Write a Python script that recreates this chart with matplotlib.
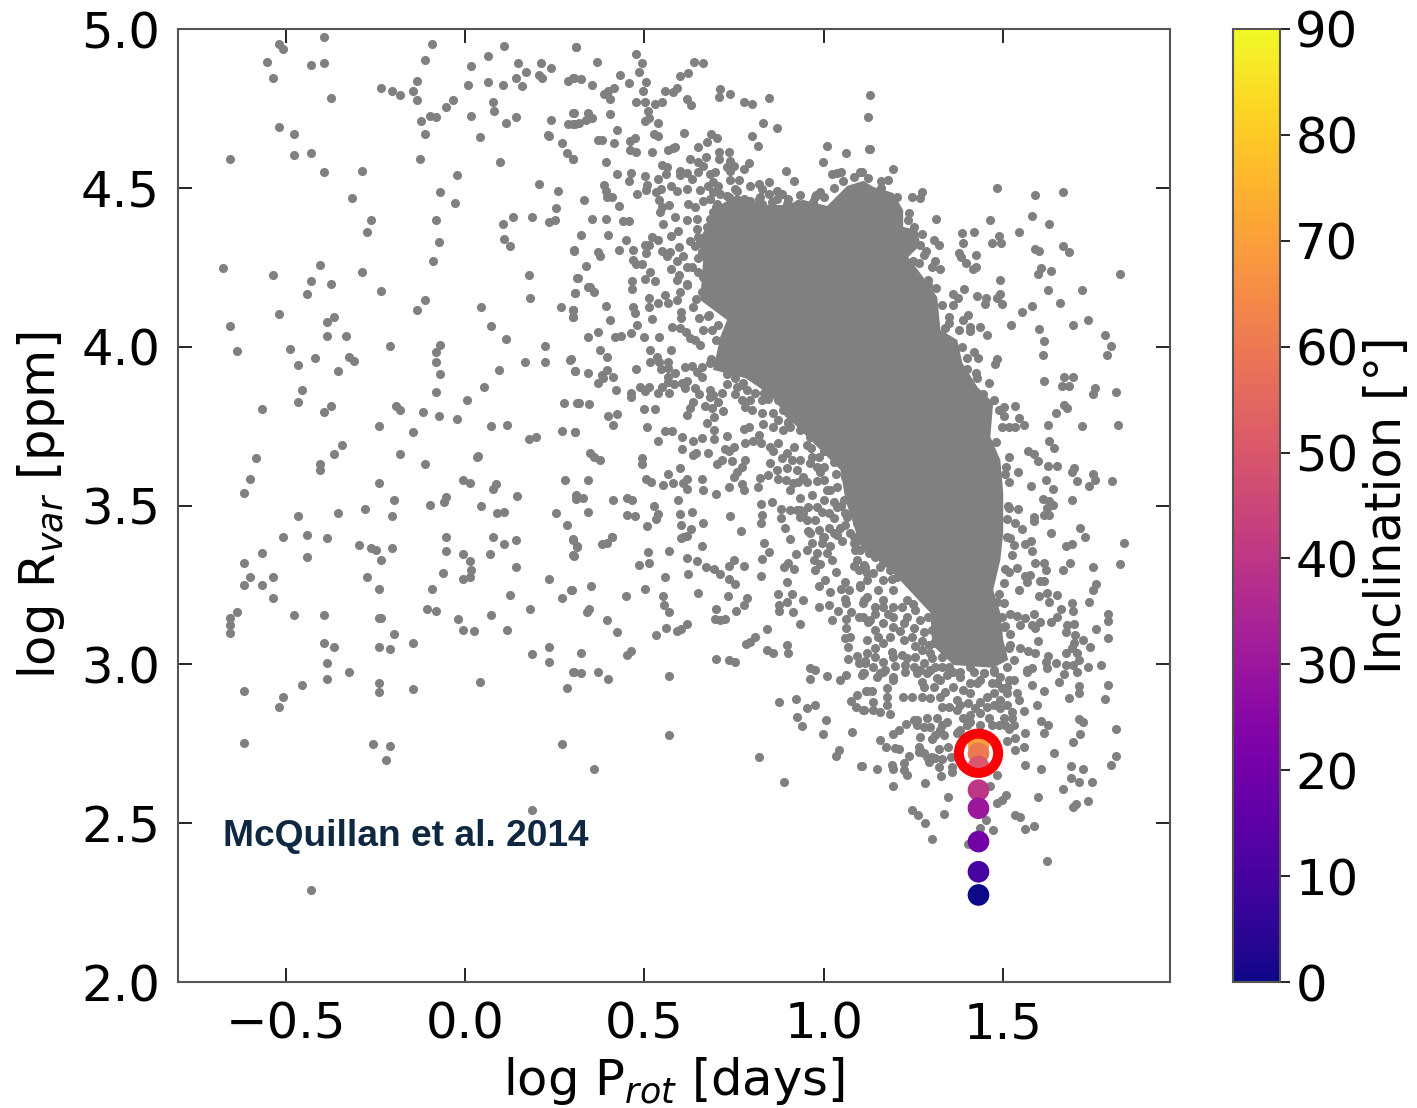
import matplotlib
matplotlib.use("Agg")
import matplotlib.pyplot as plt
import numpy as np

# log Prot, log Rvar, region by region
left_top = [(-0.518,4.953),(-0.506,4.937),(-0.393,4.975),(-0.551,4.897),(-0.429,4.888),(-0.393,4.892),(-0.534,4.846),(-0.372,4.783),
    (-0.093,4.952),(-0.110,4.901),(-0.134,4.837),(-0.234,4.814),(-0.203,4.805),(-0.181,4.791),(-0.146,4.805),(-0.134,4.778),(-0.033,4.778),
    (-0.053,4.754),(-0.098,4.725),(-0.081,4.723),(-0.122,4.709),(-0.110,4.668),(0.017,4.727),(0.017,4.884),(0.008,4.824),(0.065,4.915),
    (0.110,4.948),(0.065,4.833),(0.106,4.824),(0.077,4.769),(0.082,4.742),(0.114,4.704),(0.142,4.723),(0.149,4.892),(0.170,4.865),
    (0.142,4.846),(0.158,4.820),(0.211,4.892),(0.239,4.878),(0.207,4.856),(0.216,4.846),(0.288,4.837),(0.304,4.846),(0.309,4.942),
    (0.304,4.737),(0.239,4.714),(0.288,4.700),(0.307,4.700),(0.041,4.659),(0.231,4.667),(0.235,4.664),(0.272,4.641),(0.284,4.609),
    (0.300,4.591),(-0.518,4.690),(-0.477,4.668),(-0.656,4.591),(-0.477,4.604),(-0.429,4.609),(-0.393,4.549),(-0.287,4.554),(-0.126,4.591),
    (0.097,4.581),(-0.023,4.540),(-0.316,4.467),(-0.069,4.486),(-0.029,4.453),(0.207,4.513),(0.260,4.490),(0.255,4.435),(-0.263,4.399),
    (-0.272,4.362),(-0.081,4.399),(-0.073,4.331),(-0.089,4.271),(0.134,4.407),(0.106,4.385),(0.187,4.407),(0.235,4.393),(0.251,4.399),
    (0.110,4.339),(0.126,4.316),(0.304,4.302),(-0.675,4.248),(-0.534,4.225),(-0.405,4.257),(-0.287,4.234),(-0.429,4.207),(-0.372,4.197),
    (-0.441,4.166),(-0.234,4.174),(-0.110,4.147),(-0.134,4.115),(-0.518,4.102),(-0.364,4.092),(-0.384,4.079),(-0.656,4.065),(-0.384,4.034),
    (-0.332,4.034),(0.045,4.124),(0.073,4.065),(0.114,4.024),(0.178,4.225),(0.182,4.152),(0.268,4.124),(0.300,4.115),(0.300,4.092),
    (0.307,4.170),(0.313,4.216)]

left_mid = [(-0.635,3.987),(-0.489,3.992),(-0.465,3.941),(-0.417,3.964),(-0.324,3.969),(-0.308,3.955),(-0.353,3.922),(-0.210,4.001),
    (-0.069,4.005),(-0.081,3.982),(-0.081,3.951),(-0.069,3.914),(-0.081,3.858),(0.223,4.001),(0.167,3.951),(0.223,3.951),(0.094,3.928),
    (0.292,3.959),(0.307,3.922),(0.053,3.872),(-0.453,3.864),(-0.465,3.827),(-0.567,3.804),(-0.393,3.794),(-0.372,3.813),(-0.191,3.814),
    (-0.181,3.800),(-0.117,3.794),(-0.073,3.781),(-0.023,3.772),(0.005,3.831),(0.275,3.823),(0.313,3.823),(-0.239,3.749),(-0.146,3.730),
    (0.073,3.749),(0.118,3.753),(0.272,3.736),(0.307,3.730),(0.178,3.708),(0.199,3.717),(-0.344,3.689),(-0.364,3.662),(-0.582,3.648),
    (-0.405,3.630),(-0.405,3.612),(-0.181,3.662),(-0.110,3.630),(0.033,3.653),(0.037,3.657),(-0.599,3.584),(-0.615,3.539),(-0.239,3.571),
    (-0.005,3.580),(0.013,3.571),(0.086,3.567),(0.077,3.552),(0.279,3.580),(0.146,3.530),(0.309,3.534),(0.309,3.519),(-0.198,3.516),
    (-0.053,3.526),(-0.057,3.511),(-0.097,3.503),(0.045,3.498),(-0.279,3.489),(-0.353,3.475),(-0.465,3.466),(-0.203,3.466),(0.089,3.475),
    (0.110,3.480),(0.255,3.475),(0.284,3.439),(-0.506,3.400),(-0.441,3.406),(-0.384,3.398),(-0.053,3.402),(0.077,3.402),(0.142,3.392),
    (0.110,3.379),(0.300,3.392),(0.312,3.370),(0.304,3.342),(-0.295,3.375),(-0.263,3.365),(-0.247,3.361),(-0.203,3.365),(-0.234,3.328),
    (-0.053,3.357),(-0.005,3.347),(0.069,3.347),(-0.567,3.352),(-0.441,3.338),(-0.615,3.320),(0.013,3.324),(0.017,3.297),(-0.060,3.288),
    (0.142,3.305),(-0.599,3.274),(-0.534,3.274),(-0.272,3.274),(-0.005,3.270),(0.013,3.274),(0.235,3.270),(-0.615,3.251),(-0.567,3.251),
    (-0.239,3.237),(-0.093,3.237),(-0.534,3.210),(0.126,3.218),(0.296,3.233),(0.272,3.210),(-0.105,3.173),(-0.081,3.169),(0.182,3.173),
    (-0.635,3.164),(-0.656,3.146),(-0.656,3.123),(-0.656,3.100),(-0.477,3.155),(-0.393,3.155),(-0.239,3.146),(-0.233,3.146),(-0.020,3.142),
    (0.073,3.155),(-0.005,3.109),(0.024,3.105),(0.118,3.109),(-0.198,3.096),(-0.393,3.068),(-0.364,3.055),(-0.239,3.055),(-0.210,3.049),
    (-0.146,3.068),(0.235,3.055),(0.187,3.032)]

left_low = [(-0.384,3.004),(0.235,3.008),(-0.324,2.977),(0.304,2.977),(-0.384,2.954),(-0.239,2.940),(0.041,2.944),(-0.453,2.935),
    (-0.615,2.917),(-0.146,2.921),(-0.239,2.912),(0.284,2.926),(-0.506,2.898),(-0.518,2.867),(-0.615,2.753),(-0.255,2.748),(-0.210,2.743),
    (-0.219,2.698),(0.272,2.748),(0.187,2.541),(-0.429,2.291)]

centre_top = [(0.311,4.942),(0.368,4.897),(0.302,4.845),(0.323,4.842),(0.355,4.824),(0.433,4.856),(0.457,4.829),(0.477,4.920),(0.493,4.893),
    (0.485,4.866),(0.505,4.833),(0.497,4.806),(0.416,4.814),(0.400,4.806),(0.388,4.796),(0.404,4.779),(0.477,4.769),(0.501,4.769),(0.529,4.763),
    (0.550,4.769),(0.510,4.742),(0.513,4.719),(0.501,4.709),(0.538,4.705),(0.558,4.806),(0.579,4.801),(0.591,4.814),(0.599,4.851),(0.623,4.860),
    (0.639,4.897),(0.663,4.893),(0.619,4.779),(0.631,4.760),(0.712,4.810),(0.708,4.787),(0.740,4.796),(0.777,4.769),(0.801,4.763),(0.849,4.783),
    (0.830,4.705),(0.870,4.687),(0.801,4.664),(0.818,4.632),(1.010,4.632),(1.063,4.609),(0.999,4.581),(1.023,4.545),(1.037,4.546),(1.049,4.550),
    (1.102,4.551),(1.124,4.723),(1.126,4.622),(1.130,4.792),(0.894,4.554),(0.918,4.522),(0.991,4.488),(0.979,4.477),(0.970,4.456),(0.302,4.737),
    (0.343,4.737),(0.405,4.732),(0.355,4.719),(0.339,4.715),(0.319,4.705),(0.302,4.700),(0.424,4.682),(0.372,4.651),(0.381,4.651),(0.417,4.641),
    (0.473,4.656),(0.460,4.646),(0.460,4.618),(0.477,4.614),(0.526,4.668),(0.537,4.663),(0.522,4.614),(0.611,4.673),(0.566,4.618),(0.579,4.624),
    (0.587,4.630),(0.651,4.627),(0.675,4.645),(0.687,4.668),(0.704,4.656),(0.708,4.614),(0.736,4.614),(0.708,4.591),(0.628,4.591),(0.651,4.582),
    (0.673,4.596),(0.665,4.570),(0.740,4.586),(0.730,4.565),(0.749,4.570),(0.740,4.554),(0.793,4.578),(0.777,4.559),(0.393,4.581),(0.300,4.591),
    (0.424,4.545),(0.464,4.546),(0.457,4.523),(0.501,4.536),(0.388,4.509),(0.393,4.491),(0.397,4.472),(0.409,4.470),(0.331,4.463),(0.429,4.444),
    (0.479,4.482),(0.509,4.509),(0.505,4.494),(0.538,4.527),(0.550,4.572),(0.563,4.565),(0.562,4.545),(0.599,4.554),(0.599,4.541),(0.619,4.546),
    (0.634,4.527),(0.651,4.551),(0.575,4.505),(0.591,4.491),(0.619,4.495),(0.656,4.493),(0.546,4.495),(0.533,4.486),(0.541,4.463),(0.550,4.440),
    (0.544,4.425),(0.570,4.445),(0.623,4.449),(0.642,4.439),(0.665,4.460),(0.355,4.403),(0.393,4.403),(0.440,4.395),(0.457,4.395),(0.323,4.353),
    (0.400,4.353),(0.448,4.335),(0.552,4.385),(0.587,4.408),(0.619,4.399),(0.647,4.402),(0.593,4.365),(0.575,4.348),(0.647,4.370),(0.522,4.344),
    (0.537,4.335),(0.501,4.321),(0.512,4.321),(0.303,4.303),(0.372,4.299),(0.377,4.284),(0.429,4.303),(0.469,4.303),(0.505,4.294),(0.549,4.302),
    (0.563,4.286),(0.572,4.297),(0.598,4.313),(0.628,4.334),(0.609,4.284),(0.591,4.271),(0.470,4.274),(0.477,4.260),(0.493,4.260),(0.339,4.253),
    (0.315,4.216),(0.575,4.245),(0.516,4.234),(0.502,4.213),(0.465,4.208),(0.530,4.208),(0.598,4.226),(0.591,4.211),(0.619,4.250),(0.619,4.197),
    (0.349,4.187),(0.684,4.544),(0.698,4.549),(0.693,4.517),(0.679,4.507),(0.707,4.507),(0.693,4.486),(0.712,4.481),(0.684,4.465),(0.702,4.449),
    (0.730,4.475),(0.753,4.496),(0.763,4.526),(0.740,4.526),(0.795,4.507),(0.819,4.512),(0.848,4.519),(0.828,4.496),(0.847,4.481),(0.870,4.491),
    (0.884,4.481),(0.823,4.470),(0.828,4.449),(0.870,4.465),(0.898,4.449),(0.888,4.433),(0.930,4.449),(0.953,4.428),(0.758,4.454),(0.777,4.465),
    (0.795,4.460),(0.749,4.433),(0.726,4.423)]

centre_mid = [(0.307,4.170),(0.344,4.187),(0.360,4.173),(0.393,4.129),(0.300,4.116),(0.300,4.092),(0.405,4.084),(0.470,4.126),(0.474,4.105),
    (0.513,4.126),(0.538,4.139),(0.465,4.181),(0.513,4.152),(0.567,4.137),(0.558,4.163),(0.591,4.147),(0.600,4.173),(0.619,4.194),(0.637,4.126),
    (0.660,4.173),(0.603,4.110),(0.603,4.089),(0.521,4.086),(0.479,4.068),(0.462,4.044),(0.372,4.047),(0.344,4.030),(0.419,4.030),(0.434,4.034),
    (0.498,4.030),(0.541,4.030),(0.577,4.061),(0.600,4.058),(0.616,4.047),(0.628,4.026),(0.642,4.021),(0.656,4.005),(0.654,4.089),(0.679,4.097),
    (0.665,4.053),(0.688,4.053),(0.707,4.068),(0.377,3.988),(0.395,3.969),(0.296,3.960),(0.516,3.988),(0.574,3.988),(0.535,3.969),(0.516,3.953),
    (0.540,3.953),(0.566,3.953),(0.614,3.935),(0.633,3.939),(0.660,3.937),(0.684,3.948),(0.477,3.929),(0.546,3.929),(0.567,3.932),(0.586,3.918),
    (0.646,3.921),(0.660,3.906),(0.307,3.924),(0.344,3.918),(0.395,3.927),(0.381,3.911),(0.412,3.906),(0.372,3.887),(0.386,3.900),(0.565,3.904),
    (0.567,3.890),(0.583,3.883),(0.420,3.864),(0.464,3.853),(0.464,3.843),(0.488,3.872),(0.502,3.862),(0.514,3.874),(0.538,3.853),(0.549,3.874),
    (0.570,3.855),(0.605,3.885),(0.620,3.893),(0.614,3.869),(0.642,3.869),(0.654,3.850),(0.684,3.864),(0.693,3.848),(0.716,3.855),(0.684,3.841),
    (0.732,3.883),(0.749,3.921),(0.753,3.900),(0.772,3.879),(0.753,3.851),(0.786,3.864),(0.809,3.853),(0.819,3.895),(0.772,3.832),(0.781,3.811),
    (0.800,3.801),(0.828,3.832),(0.842,3.853),(0.851,3.895),(0.879,3.890),(0.874,3.832),(0.898,3.827),(0.860,3.790),(0.828,3.790),(0.902,3.790),
    (0.921,3.811),(0.874,3.769),(0.902,3.764),(0.939,3.769),(0.958,3.748),(0.319,3.822),(0.347,3.819),(0.498,3.805),(0.529,3.805),(0.637,3.827),
    (0.628,3.806),(0.619,3.785),(0.670,3.813),(0.688,3.806),(0.707,3.827),(0.719,3.796),(0.695,3.778),(0.400,3.782),(0.424,3.787),(0.412,3.754),
    (0.509,3.746),(0.674,3.759),(0.695,3.738),(0.557,3.736),(0.578,3.736),(0.306,3.730),(0.538,3.704),(0.606,3.715),(0.635,3.704),(0.660,3.712),
    (0.695,3.708),(0.732,3.719),(0.777,3.741),(0.793,3.746),(0.830,3.757),(0.821,3.722),(0.781,3.698),(0.803,3.704),(0.825,3.698),(0.874,3.696),
    (0.860,3.670),(0.918,3.685),(0.953,3.691),(0.606,3.678),(0.635,3.659),(0.645,3.666),(0.679,3.664),(0.726,3.677),(0.749,3.685),(0.735,3.670),
    (0.349,3.666),(0.360,3.654),(0.377,3.643),(0.493,3.649),(0.493,3.630),(0.716,3.643),(0.702,3.631),(0.744,3.640),(0.781,3.643),(0.772,3.622),
    (0.851,3.633),(0.884,3.649),(0.912,3.643),(0.898,3.617),(0.926,3.612),(0.967,3.654),(0.963,3.633),(1.000,3.670),(0.991,3.607),(0.600,3.617),
    (0.566,3.599),(0.758,3.607),(0.749,3.591),(0.846,3.596),(0.823,3.586),(0.874,3.583),(0.896,3.580),(0.930,3.575),(0.953,3.575),(0.981,3.577),
    (0.344,3.580),(0.505,3.582),(0.518,3.575),(0.579,3.572),(0.619,3.582),(0.607,3.572),(0.660,3.584),(0.553,3.563),(0.619,3.552),(0.663,3.549),
    (0.772,3.568),(0.777,3.549),(0.736,3.557),(0.817,3.559),(0.700,3.535),(0.907,3.549),(0.935,3.523),(0.967,3.533),(1.009,3.549),(1.037,3.559),
    (0.312,3.528),(0.328,3.525),(0.412,3.517),(0.453,3.523),(0.467,3.517),(0.593,3.517),(0.526,3.499),(0.344,3.481),(0.451,3.470),(0.473,3.467),
    (0.538,3.472),(0.533,3.457),(0.600,3.472),(0.634,3.481),(0.740,3.468),(0.826,3.504),(0.857,3.512),(0.882,3.489),(0.828,3.470),(0.882,3.462),
    (0.935,3.486),(0.958,3.496),(0.995,3.481),(1.037,3.496),(0.953,3.454),(0.509,3.434),(0.603,3.439),(0.663,3.444),(0.631,3.425),(0.825,3.444),
    (0.893,3.428),(0.958,3.421),(0.986,3.423),(1.014,3.428),(0.769,3.421),(0.609,3.402),(0.409,3.402),(0.981,3.706),(1.028,3.696),(1.000,3.622),
    (1.084,3.664),(1.065,3.622),(1.102,3.591),(1.037,3.643),(1.116,3.554),(1.074,3.554),(1.056,3.517),(1.093,3.517),(1.121,3.475),(1.065,3.465),
    (1.093,3.444),(1.047,3.428),(1.112,3.412),(1.074,3.412),(0.907,3.486),(1.014,3.475),(0.935,3.465)]

centre_low = [(0.300,3.394),(0.312,3.371),(0.302,3.343),(0.381,3.379),(0.395,3.383),(0.409,3.400),(0.510,3.353),(0.570,3.357),(0.486,3.312),
    (0.513,3.320),(0.603,3.398),(0.619,3.404),(0.660,3.371),(0.619,3.334),(0.647,3.324),(0.671,3.307),(0.695,3.301),(0.712,3.283),(0.749,3.329),
    (0.735,3.308),(0.777,3.311),(0.623,3.283),(0.558,3.274),(0.735,3.270),(0.752,3.252),(0.826,3.278),(0.833,3.383),(0.849,3.355),(0.829,3.333),
    (0.907,3.394),(0.924,3.347),(0.890,3.305),(0.902,3.318),(0.918,3.301),(0.975,3.297),(0.955,3.360),(0.981,3.350),(0.991,3.316),(1.009,3.350),
    (1.023,3.329),(1.035,3.292),(0.967,3.383),(0.995,3.381),(1.037,3.407),(1.051,3.389),(0.898,3.260),(0.986,3.247),(1.005,3.266),(1.017,3.229),
    (1.048,3.237),(1.060,3.260),(1.070,3.234),(1.084,3.308),(1.088,3.360),(1.100,3.297),(1.102,3.250),(1.113,3.203),(1.121,3.287),(0.352,3.247),
    (0.298,3.233),(0.449,3.215),(0.501,3.237),(0.551,3.215),(0.555,3.187),(0.570,3.165),(0.651,3.224),(0.733,3.215),(0.786,3.210),(0.777,3.187),
    (0.756,3.169),(0.700,3.174),(0.874,3.220),(0.912,3.220),(0.898,3.197),(0.877,3.187),(0.877,3.169),(0.914,3.164),(0.942,3.202),(0.987,3.179),
    (1.016,3.187),(1.040,3.169),(1.060,3.206),(1.063,3.194),(1.076,3.165),(1.100,3.150),(1.124,3.132),(0.347,3.174),(0.340,3.164),(0.396,3.138),
    (0.425,3.101),(0.534,3.091),(0.562,3.114),(0.591,3.105),(0.603,3.111),(0.619,3.127),(0.698,3.142),(0.712,3.138),(0.726,3.143),(0.935,3.127),
    (1.023,3.138),(1.063,3.142),(1.063,3.113),(1.060,3.084),(1.073,3.087),(1.069,3.056),(0.842,3.110),(0.809,3.087),(0.795,3.069),(0.783,3.063),
    (0.898,3.061),(0.902,3.037),(0.842,3.045),(0.858,3.035),(1.069,3.018),(1.093,3.027),(1.098,3.003),(1.116,3.011),(0.324,3.037),(0.462,3.042),
    (0.453,3.029),(0.700,3.018),(0.736,3.013),(0.753,3.007),(0.302,2.977),(0.324,2.972),(0.372,2.977),(0.400,2.954),(0.570,2.963),(0.963,2.987),
    (0.977,2.982),(0.963,2.954),(1.011,2.963),(1.045,2.950),(1.063,2.967),(1.112,2.972),(0.877,2.882),(0.923,2.891),(0.955,2.863),(0.975,2.872),
    (0.927,2.835),(1.007,2.826),(0.939,2.807),(0.999,2.781),(1.080,2.788),(0.570,2.776),(0.821,2.707),(1.042,2.730),(1.035,2.712),(1.104,2.680),
    (0.359,2.671),(0.890,2.630),(1.076,2.886),(1.093,2.904),(1.091,2.867),(1.112,2.856),(1.118,2.917),(1.084,3.402),(1.084,3.381),(1.102,3.360),
    (1.116,3.381)]

right_top = [(1.129,4.622),(1.193,4.558),(1.107,4.551),(1.181,4.525),(1.161,4.522),(1.246,4.472),(1.274,4.486),(1.269,4.467),(1.238,4.422),
    (1.314,4.403),(1.253,4.376),(1.274,4.354),(1.307,4.335),(1.322,4.321),(1.269,4.320),(1.385,4.358),(1.420,4.362),(1.389,4.325),(1.465,4.399),
    (1.485,4.498),(1.590,4.476),(1.667,4.486),(1.582,4.412),(1.630,4.385),(1.546,4.362),(1.489,4.348),(1.469,4.325),(1.494,4.325),(1.590,4.307),
    (1.602,4.302),(1.667,4.316),(1.683,4.298),(1.379,4.294),(1.384,4.283),(1.425,4.289),(1.396,4.262),(1.425,4.250),(1.416,4.243),(1.279,4.288),
    (1.266,4.264),(1.311,4.271),(1.302,4.252),(1.325,4.243),(1.635,4.238),(1.607,4.247),(1.598,4.229),(1.826,4.230),(1.493,4.211),(1.290,4.211),
    (1.627,4.178),(1.720,4.178),(1.392,4.183),(1.314,4.184),(1.360,4.165),(1.428,4.160),(1.453,4.152),(1.449,4.133),(1.493,4.166),(1.485,4.152),
    (1.497,4.133),(1.659,4.138),(1.582,4.129),(1.554,4.110),(1.375,4.152),(1.362,4.131),(1.349,4.094),(1.349,4.073),(1.404,4.099),(1.388,4.083),
    (1.407,4.063),(1.407,4.050),(1.379,4.051),(1.437,4.061),(1.456,4.037),(1.522,4.069),(1.602,4.056),(1.695,4.069),(1.736,4.083),(1.785,4.037),
    (1.615,4.019),(1.802,4.001),(1.791,3.974),(1.611,3.974),(1.420,3.982),(1.400,3.964),(1.432,3.963),(1.485,3.960),(1.477,3.945),(1.425,3.918),
    (1.460,3.885),(1.429,3.900),(1.615,3.891),(1.671,3.904),(1.695,3.904),(1.665,3.877),(1.683,3.877),(1.756,3.869),(1.752,3.850),(1.816,3.858),
    (1.533,3.814),(1.671,3.815),(1.474,3.832),(1.502,3.811)]

right_mid = [(1.502,3.782),(1.546,3.777),(1.558,3.754),(1.497,3.746),(1.516,3.748),(1.535,3.746),(1.627,3.754),(1.647,3.790),(1.679,3.806),
    (1.720,3.749),(1.821,3.754),(1.630,3.704),(1.643,3.680),(1.570,3.671),(1.586,3.662),(1.599,3.639),(1.518,3.654),(1.627,3.625),(1.651,3.625),
    (1.697,3.617),(1.692,3.606),(1.542,3.607),(1.507,3.599),(1.516,3.573),(1.619,3.580),(1.752,3.599),(1.756,3.580),(1.708,3.576),(1.740,3.561),
    (1.804,3.576),(1.578,3.562),(1.639,3.553),(1.611,3.521),(1.692,3.516),(1.628,3.514),(1.640,3.501),(1.623,3.491),(1.616,3.470),(1.628,3.470),
    (1.542,3.489),(1.516,3.491),(1.511,3.459),(1.586,3.465),(1.586,3.452),(1.534,3.444),(1.554,3.425),(1.715,3.429),(1.728,3.402),(1.635,3.415),
    (1.837,3.383),(1.675,3.374),(1.692,3.380),(1.561,3.380),(1.578,3.388),(1.582,3.356),(1.521,3.397),(1.530,3.376),(1.525,3.344),(1.590,3.320),
    (1.615,3.320),(1.619,3.297),(1.687,3.320),(1.667,3.297),(1.752,3.306),(1.826,3.315),(1.516,3.292),(1.539,3.302),(1.562,3.279),(1.575,3.281),
    (1.567,3.260),(1.604,3.263),(1.614,3.263),(1.504,3.255),(1.544,3.234),(1.761,3.252),(1.752,3.233),(1.602,3.215),(1.623,3.223),(1.651,3.219),
    (1.630,3.197),(1.739,3.196),(1.692,3.192),(1.696,3.169),(1.663,3.174),(1.651,3.150),(1.634,3.133),(1.792,3.160),(1.792,3.137),(1.539,3.152),
    (1.562,3.145),(1.586,3.160),(1.549,3.124),(1.581,3.124),(1.604,3.134),(1.590,3.113),(1.679,3.124),(1.699,3.128),(1.675,3.101),(1.761,3.110),
    (1.702,3.091),(1.723,3.078),(1.792,3.082),(1.599,3.073),(1.697,3.066),(1.744,3.055),(1.692,3.050),(1.549,3.050),(1.570,3.043),(1.590,3.035),
    (1.675,3.037),(1.708,3.035),(1.627,3.027),(1.711,3.014),(1.621,3.008),(1.647,3.003),(1.675,2.998),(1.696,2.998),(1.736,2.992),(1.773,2.998),
    (1.623,2.990),(1.707,2.977),(1.671,2.968),(1.581,2.987),(1.567,2.977),(1.153,3.234),(1.121,3.213),(1.111,3.192),(1.167,3.202),(1.144,3.181),
    (1.218,3.181),(1.144,3.160),(1.181,3.160),(1.195,3.150),(1.130,3.139),(1.232,3.150),(1.223,3.129),(1.269,3.139),(1.144,3.108),(1.153,3.087),
    (1.186,3.087),(1.214,3.106),(1.251,3.113),(1.279,3.103),(1.274,3.074),(1.255,3.058),(1.274,3.045),(1.190,3.040),(1.144,3.050),(1.144,3.022),
    (1.218,3.029),(1.232,3.019),(1.167,3.008),(1.116,3.003),(1.200,2.995),(1.279,3.003),(1.251,2.993),(1.302,3.019),(1.158,2.972),(1.195,2.961),
    (1.228,2.977),(1.107,2.966),(1.297,2.982),(1.330,2.993),(1.362,2.977),(1.446,2.972),(1.121,3.370),(1.144,3.339),(1.167,3.318),(1.116,3.307),
    (1.139,3.286),(1.186,3.297),(1.204,3.276),(1.167,3.265),(1.121,3.265),(1.102,3.244),(1.232,3.286),(1.195,3.349),(1.186,3.381)]

right_low = [(1.116,3.008),(1.111,2.974),(1.149,2.961),(1.167,2.977),(1.195,2.951),(1.121,2.917),(1.135,2.917),(1.176,2.924),(1.176,2.898),
    (1.221,2.898),(1.246,2.896),(1.274,2.896),(1.297,2.893),(1.139,2.882),(1.176,2.872),(1.111,2.856),(1.139,2.856),(1.156,2.851),(1.186,2.844),
    (1.260,2.972),(1.288,2.972),(1.274,2.945),(1.316,2.956),(1.344,2.966),(1.307,2.930),(1.362,2.930),(1.381,2.961),(1.409,2.940),(1.446,2.972),
    (1.428,2.940),(1.483,2.940),(1.511,2.930),(1.530,2.951),(1.567,2.982),(1.581,2.936),(1.615,2.917),(1.656,2.944),(1.711,2.932),(1.711,2.909),
    (1.792,2.936),(1.683,2.893),(1.785,2.890),(1.325,2.898),(1.330,2.867),(1.372,2.888),(1.349,2.865),(1.372,2.856),(1.404,2.877),(1.437,2.882),
    (1.456,2.898),(1.474,2.909),(1.493,2.888),(1.511,2.909),(1.539,2.909),(1.544,2.888),(1.493,2.861),(1.558,2.853),(1.594,2.871),(1.437,2.846),
    (1.460,2.830),(1.409,2.840),(1.390,2.830),(1.502,2.830),(1.525,2.830),(1.530,2.809),(1.516,2.798),(1.288,2.830),(1.260,2.825),(1.316,2.830),
    (1.279,2.804),(1.344,2.819),(1.230,2.813),(1.209,2.793),(1.195,2.781),(1.325,2.793),(1.335,2.777),(1.302,2.764),(1.269,2.772),(1.376,2.788),
    (1.409,2.819),(1.437,2.809),(1.469,2.809),(1.606,2.822),(1.627,2.808),(1.615,2.785),(1.562,2.785),(1.711,2.827),(1.723,2.817),(1.816,2.798),
    (1.716,2.780),(1.696,2.756),(1.534,2.767),(1.511,2.760),(1.558,2.741),(1.535,2.730),(1.156,2.763),(1.174,2.740),(1.200,2.737),(1.209,2.733),
    (1.265,2.741),(1.265,2.725),(1.279,2.720),(1.321,2.732),(1.346,2.739),(1.302,2.707),(1.331,2.703),(1.293,2.693),(1.239,2.711),(1.355,2.707),
    (1.643,2.721),(1.816,2.711),(1.562,2.684),(1.607,2.670),(1.691,2.680),(1.723,2.670),(1.802,2.684),(1.691,2.643),(1.711,2.629),(1.748,2.629),
    (1.667,2.606),(1.107,2.680),(1.149,2.670),(1.190,2.683),(1.195,2.669),(1.223,2.688),(1.223,2.667),(1.234,2.651),(1.323,2.676),(1.327,2.647),
    (1.358,2.678),(1.358,2.662),(1.485,2.651),(1.193,2.616),(1.282,2.625),(1.465,2.617),(1.348,2.583),(1.598,2.583),(1.508,2.589),(1.497,2.573),
    (1.483,2.562),(1.736,2.570),(1.704,2.561),(1.696,2.552),(1.246,2.542),(1.262,2.525),(1.335,2.529),(1.282,2.501),(1.533,2.525),(1.549,2.520),
    (1.453,2.510),(1.586,2.492),(1.562,2.483),(1.473,2.478),(1.437,2.485),(1.303,2.450),(1.404,2.433),(1.623,2.382)]

# points around the edge of the dense part, second pass over the crops
edge_upper = [(0.693,4.423),(0.684,4.402),(0.674,4.376),(0.707,4.412),(0.730,4.428),(0.777,4.444),(0.809,4.444),(0.842,4.433),(0.865,4.412),
    (0.907,4.412),(0.944,4.444),(0.651,4.344),(0.665,4.334),(0.674,4.318),(0.660,4.297),(0.633,4.250),(0.651,4.234),(0.674,4.255),(0.665,4.218),
    (0.684,4.208),(0.642,4.318)]

edge_left = [(0.963,3.717),(0.986,3.706),(1.009,3.717),(1.047,3.717),(1.019,3.675),(1.056,3.675),(0.986,3.654),(1.028,3.638),(1.060,3.591),
    (1.000,3.580),(1.019,3.549),(1.084,3.580),(1.000,3.517),(1.028,3.512),(1.079,3.528),(1.107,3.538),(0.981,3.496),(1.060,3.475),(1.093,3.475),
    (1.028,3.460),(0.977,3.454),(1.060,3.439),(1.121,3.434),(1.028,3.412),(1.093,3.402),(0.944,3.475),(0.926,3.486),(0.963,3.412),(1.000,3.402),
    (0.888,3.801),(0.907,3.748),(0.935,3.738),(0.981,3.748),(1.009,3.759),(0.888,3.738),(0.860,3.748),(0.898,3.664),(0.935,3.643),(0.944,3.591),
    (0.981,3.622),(0.916,3.570),(0.870,3.612),(0.851,3.685),(0.833,3.853),(0.795,3.832),(0.758,3.874),(0.860,3.864),(1.102,3.392),(1.093,3.329),
    (1.126,3.350),(1.112,3.313),(0.999,3.402),(1.019,3.371),(0.972,3.329)]

edge_lower = [(1.130,3.412),(1.158,3.381),(1.204,3.391),(1.223,3.360),(1.158,3.307),(1.195,3.318),(1.242,3.328),(1.260,3.286),(1.251,3.255),
    (1.195,3.234),(1.269,3.234),(1.232,3.202),(1.283,3.202),(1.167,3.181),(1.195,3.181),(1.255,3.171),(1.111,3.150),(1.167,3.129),(1.195,3.119),
    (1.246,3.087),(1.302,3.108),(1.307,3.066),(1.223,3.076),(1.167,3.066),(1.121,3.076),(1.297,3.035),(1.330,3.024),(1.255,3.024),(1.195,3.024),
    (1.121,3.035),(1.139,2.993),(1.172,2.982),(1.228,2.998),(1.265,2.982),(1.311,2.993),(1.349,2.993),(1.381,2.977),(1.409,2.993),(1.474,2.982),
    (1.511,2.993),(1.493,2.961),(1.530,3.014),(1.516,3.050),(1.521,3.097),(1.502,3.118),(1.521,3.160),(1.502,3.192),(1.483,3.197),(1.497,3.150),
    (1.269,2.982),(1.297,2.982),(1.325,2.951),(1.279,2.930),(1.339,2.914),(1.390,2.919),(1.409,2.909),(1.437,2.951),(1.469,2.940),(1.497,2.924),
    (1.516,2.951),(1.456,2.867),(1.474,2.872),(1.511,2.872),(1.525,2.851),(1.423,2.861),(1.381,2.872),(1.297,2.804),(1.311,2.777),(1.330,2.809),
    (1.260,2.809),(1.251,2.825),(1.400,2.809),(1.381,2.793),(1.372,2.783),(1.488,2.809),(1.507,2.809),(1.288,2.709),(1.311,2.704),(1.269,2.730)]

# stars sitting right on the rim of the dense part, they make its edge lumpy
rim = [(0.700,4.440),(0.735,4.470),(0.760,4.490),(0.790,4.460),(0.820,4.465),(0.855,4.455),(0.900,4.465),(0.935,4.478),(0.975,4.470),(1.000,4.470),
    (1.030,4.500),(1.055,4.520),(1.085,4.535),(1.125,4.530),(1.160,4.500),(1.205,4.470),(1.235,4.400),(1.250,4.355),(1.285,4.300),(1.250,4.270),
    (1.290,4.195),(1.330,4.130),(1.340,4.060),(1.385,4.000),(1.400,3.930),(1.445,3.850),(1.490,3.800),(1.480,3.700),(1.510,3.620),(1.515,3.500),
    (1.512,3.400),(1.505,3.300),(1.490,3.220),(1.505,3.120),(1.520,3.060),(0.655,4.330),(0.650,4.280),(0.645,4.150),(0.680,4.100),(0.700,4.020),
    (0.685,3.960),(0.730,3.915),(0.775,3.885),(0.845,3.835),(0.900,3.760),(0.965,3.680),(1.035,3.600),(1.050,3.500),(1.090,3.365),(1.190,3.270),
    (1.250,3.190),(1.290,3.150),(1.295,3.060),(1.350,2.985),(1.420,2.975),(1.475,2.975)]

# the saturated part of the cloud, where single stars can't be told apart: its outline only
core_x = [0.676,0.712,0.759,0.815,0.888,0.943,1.010,1.066,1.111,1.139,1.194,1.222,1.222,1.261,1.270,1.236,1.278,1.317,1.326,1.373,1.387,1.429,1.473,
    1.465,1.493,1.501,1.501,1.493,1.473,1.493,1.501,1.515,1.473,1.362,1.303,1.298,1.264,1.200,1.102,1.061,1.047,0.977,0.907,0.851,0.782,
    0.692,0.712,0.731,0.656,0.664,0.651]
core_y = [4.380,4.446,4.478,4.446,4.446,4.462,4.443,4.506,4.522,4.503,4.484,4.430,4.377,4.367,4.320,4.282,4.219,4.156,4.053,4.021,3.949,3.873,3.823,
    3.716,3.643,3.539,3.414,3.329,3.234,3.162,3.077,3.014,2.989,2.998,3.061,3.162,3.203,3.281,3.376,3.517,3.612,3.691,3.769,3.848,3.901,
    3.927,4.031,4.084,4.147,4.267,4.336]

# the sun at different inclinations
sun_prot = 1.432
sun_incl = [70, 60, 50, 40, 30, 20, 10, 0]
sun_rvar = [2.746, 2.720, 2.678, 2.604, 2.547, 2.442, 2.347, 2.274]
circled_rvar = 2.720

x_ticks = [-0.5, 0.0, 0.5, 1.0, 1.5]
y_ticks = [2.0, 2.5, 3.0, 3.5, 4.0, 4.5, 5.0]
cbar_ticks = [0, 10, 20, 30, 40, 50, 60, 70, 80, 90]

W, H = 1417, 1108
fig = plt.figure(figsize=(W / 100, H / 100), dpi=100)
ax = fig.add_axes([178 / W, 1 - 982 / H, 992 / W, 953 / H])
cax = fig.add_axes([1233 / W, 1 - 982 / H, 47 / W, 953 / H])

grey = "#808080"
stars = np.array(left_top + left_mid + left_low + centre_top + centre_mid + centre_low + right_top + right_mid + right_low
                 + edge_upper + edge_left + edge_lower + rim)
ax.scatter(stars[:, 0], stars[:, 1], s=43, color=grey, linewidths=0, zorder=2)
ax.fill(core_x, core_y, color=grey, linewidth=0, zorder=2)

sc = ax.scatter([sun_prot] * len(sun_incl), sun_rvar, c=sun_incl, cmap="plasma", vmin=0, vmax=90, s=243, linewidths=0, zorder=3)
ax.scatter([sun_prot], [circled_rvar], s=801, facecolors="none", edgecolors="#fb0007", linewidths=7.2, zorder=4)

ax.set_xlim(-0.8, 1.966)
ax.set_ylim(2.0, 5.0)
ax.set_xticks(x_ticks)
ax.set_yticks(y_ticks)
ax.tick_params(direction="in", length=10, width=1.2, top=True, right=True, labelsize=35.7, pad=13)
ax.set_xlabel(r"log P$_{rot}$ [days]", fontsize=35.7, labelpad=5)
ax.set_ylabel(r"log R$_{var}$ [ppm]", fontsize=35.7, labelpad=10)
for s in ax.spines.values():
    s.set_color("#555555")
    s.set_linewidth(1.5)

fig.text(223 / W, 1 - 837 / H, "McQuillan et al. 2014", family="Liberation Sans", fontweight="bold", fontsize=26.75,
         color="#0e2841", va="center", ha="left")

cb = fig.colorbar(sc, cax=cax)
cb.set_ticks(cbar_ticks)
cb.ax.tick_params(length=7, width=1.2, labelsize=35.7, pad=4)
cb.set_label("Inclination [°]", fontsize=35.7, labelpad=3)
cb.outline.set_edgecolor("#555555")
cb.outline.set_linewidth(1.5)

fig.savefig("out.png", dpi=100)
